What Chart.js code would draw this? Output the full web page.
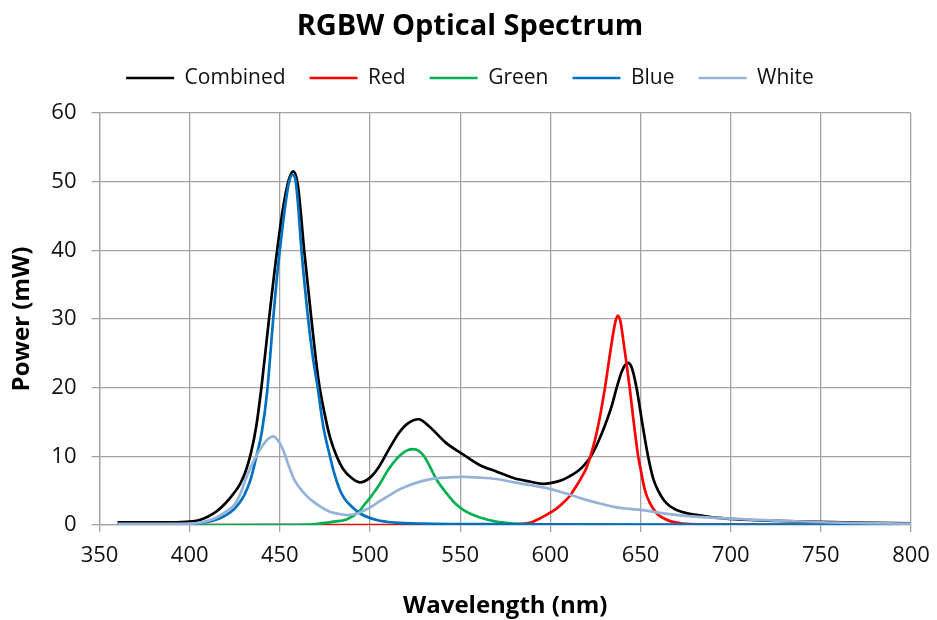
<!DOCTYPE html>
<html><head><meta charset="utf-8">
<script src="https://cdn.jsdelivr.net/npm/chart.js@4/dist/chart.umd.min.js"></script>
<style>html,body{margin:0;padding:0;background:#fff}#wrap{width:937px;height:620px}</style>
</head><body><div id="wrap"><canvas id="c" width="937" height="620"></canvas></div>
<script>
const seriesNames = ['Combined', 'Red', 'Green', 'Blue', 'White'];
const xTicks = [350, 400, 450, 500, 550, 600, 650, 700, 750, 800];
const yTicks = [0, 10, 20, 30, 40, 50, 60];

const combinedNm = [360,370,380,390,400,405,410,415,420,425,428,431,434,437,440,444,448.5,452,455,457.5,460,463.5,467.5,471.5,475,478,481.5,485,490,494.5,500,505,510,516,521,527,533,542,552,561,570,580,589,596,600,607,612,616,619,622,626,630,634,637,640,643,645,647.8,651,654.2,657,660,663,666,670,676,683,690,700,711,725,742,770,800];
const combinedMw = [0.4,0.4,0.4,0.4,0.5,0.7,1.2,2.0,3.2,4.8,6.0,7.8,10.5,14.5,20.5,30,40,46.5,50.3,51.5,49.5,40,30,21,16,12.6,10,8.2,6.8,6.2,6.9,8.5,10.8,13.4,14.8,15.4,14.3,12.0,10.2,8.7,7.8,6.8,6.3,6.0,6.1,6.6,7.3,8.0,8.8,9.8,11.8,14.3,17.3,20.2,22.6,23.6,23.0,20,14.8,10,6.8,4.9,3.6,2.8,2.2,1.7,1.4,1.1,0.9,0.73,0.6,0.49,0.35,0.25];

const redNm = [360,560,575,581,590,598,603,607,611,614,617,620,622.8,626,630,634,636,637.4,639,640.4,642,644,646,648.7,650,652.4,655,659,662,666,670,675,690,800];
const redMw = [0,0,0.05,0.1,0.45,1.5,2.3,3.2,4.3,5.5,6.8,8.3,10.5,13.8,19.5,26.5,29.5,30.5,29.5,27,24,20,15.5,10,8.2,5.1,3.3,1.7,1.1,0.6,0.35,0.15,0.05,0];

const greenNm = [360,420,450,465,470,475,480,487,494,497,501,505.5,510,515,520,523.7,527,530,533,537,542.5,547,551.7,556,561,570,578,585,600,650,800];
const greenMw = [0,0,0.02,0.05,0.15,0.3,0.5,0.8,2.0,3.0,4.3,6.0,8.0,9.7,10.8,11.05,10.8,10.0,8.6,6.6,4.6,3.2,2.2,1.6,1.1,0.5,0.25,0.15,0.05,0,0];

const blueNm = [360,380,400,405,410,415,420,425,430,434,437,440,443,446,448,450,453,455,457,458.5,460,462,465.7,468,471,474,477.8,480,483.3,486,489.8,495,503.7,514,530,560,600,700,800];
const blueMw = [0.1,0.1,0.15,0.25,0.45,0.8,1.4,2.4,4.2,6.8,10,13.5,19.5,29,35,40,46.5,49.8,51,50.5,47,40,30,25,20,14.5,10,7.7,5.1,3.8,2.7,1.6,0.73,0.35,0.2,0.12,0.08,0.05,0.05];

const whiteNm = [360,380,400,405,410,415,420,425,428,432,436,440,443,446.4,450,452,455,458,461,465,468.5,473,478,483,487,492,496,501,505,510,515,520,525,533,542,552,561,570,580,589,599,607,611,618,625,636,644,650,660,672,687,711,724,760,800];
const whiteMw = [0.15,0.15,0.2,0.3,0.6,1.1,1.9,3.0,4.5,7.3,9.6,11.4,12.4,12.9,11.9,10.8,8.6,6.6,5.4,4.2,3.4,2.6,1.9,1.6,1.45,1.6,2.0,2.7,3.4,4.2,5.0,5.6,6.1,6.65,6.9,7.0,6.9,6.7,6.2,5.8,5.3,4.7,4.4,3.8,3.3,2.6,2.35,2.2,1.8,1.4,1.1,0.78,0.65,0.34,0.2];

const pts = (xs, ys) => xs.map((x, i) => ({x: x, y: ys[i]}));
const FONT = "'Open Sans', 'DejaVu Sans', sans-serif";
const GRID = '#a3a3a3';
const LEGEND_H = 69.5;

function ds(label, xs, ys, color, order) {
  return {
    label: label, data: pts(xs, ys), borderColor: color, backgroundColor: color,
    borderWidth: 2.7, pointRadius: 0, pointHoverRadius: 0, fill: false,
    tension: 0.4, cubicInterpolationMode: 'monotone', order: order
  };
}

const legendHeightPlugin = {
  id: 'legendHeight',
  beforeLayout(chart) {
    const lg = chart.legend;
    if (lg && !lg._wrappedFit) {
      const orig = lg.fit.bind(lg);
      lg.fit = function () { orig(); this.height = LEGEND_H; };
      lg._wrappedFit = true;
    }
  }
};

new Chart(document.getElementById('c'), {
  type: 'line',
  plugins: [legendHeightPlugin],
  data: {
    datasets: [
      ds(seriesNames[0], combinedNm, combinedMw, '#000000', 5),
      ds(seriesNames[1], redNm, redMw, '#ff0000', 4),
      ds(seriesNames[2], greenNm, greenMw, '#00b050', 3),
      ds(seriesNames[3], blueNm, blueMw, '#0070c0', 2),
      ds(seriesNames[4], whiteNm, whiteMw, '#95b3d7', 1)
    ]
  },
  options: {
    responsive: false, animation: false, devicePixelRatio: 1,
    layout: {padding: {left: 29, right: 26, top: 0, bottom: 0}},
    plugins: {
      tooltip: {enabled: false},
      title: {
        display: true, text: 'RGBW Optical Spectrum', color: '#000',
        font: {family: FONT, size: 29, weight: 'bold'}, padding: {top: 9.3, bottom: -0.6}
      },
      legend: {
        display: true, position: 'top',
        labels: {
          usePointStyle: true, pointStyle: 'line', pointStyleWidth: 48, boxHeight: 21,
          color: '#111', font: {family: FONT, size: 21}, padding: 24,
          sort: (a, b) => a.datasetIndex - b.datasetIndex
        }
      }
    },
    scales: {
      x: {
        type: 'linear', min: xTicks[0], max: xTicks[xTicks.length - 1],
        afterBuildTicks: (s) => { s.ticks = xTicks.map(v => ({value: v})); },
        afterFit: (s) => { s.height = 95; s.paddingLeft = 0; s.paddingRight = 0; },
        grid: {color: GRID, lineWidth: 1.3, drawTicks: true, tickLength: 7},
        border: {color: GRID, width: 1.3},
        ticks: {color: '#111', font: {family: FONT, size: 22}, padding: 11, maxRotation: 0, autoSkip: false},
        title: {display: true, text: 'Wavelength (nm)', color: '#000', font: {family: FONT, size: 24, weight: 'bold'}, padding: {top: 0, bottom: -1}}
      },
      y: {
        type: 'linear', min: yTicks[0], max: yTicks[yTicks.length - 1],
        afterBuildTicks: (s) => { s.ticks = yTicks.map(v => ({value: v})); },
        afterFit: (s) => { s.width = 70.5; },
        grid: {color: GRID, lineWidth: 1.3, drawTicks: true, tickLength: 8},
        border: {color: GRID, width: 1.3},
        ticks: {color: '#111', font: {family: FONT, size: 22}, padding: 15},
        title: {display: true, text: 'Power (mW)', color: '#000', font: {family: FONT, size: 24, weight: 'bold'}, padding: {top: -21.4, bottom: 0}}
      }
    }
  }
});
</script></body></html>
